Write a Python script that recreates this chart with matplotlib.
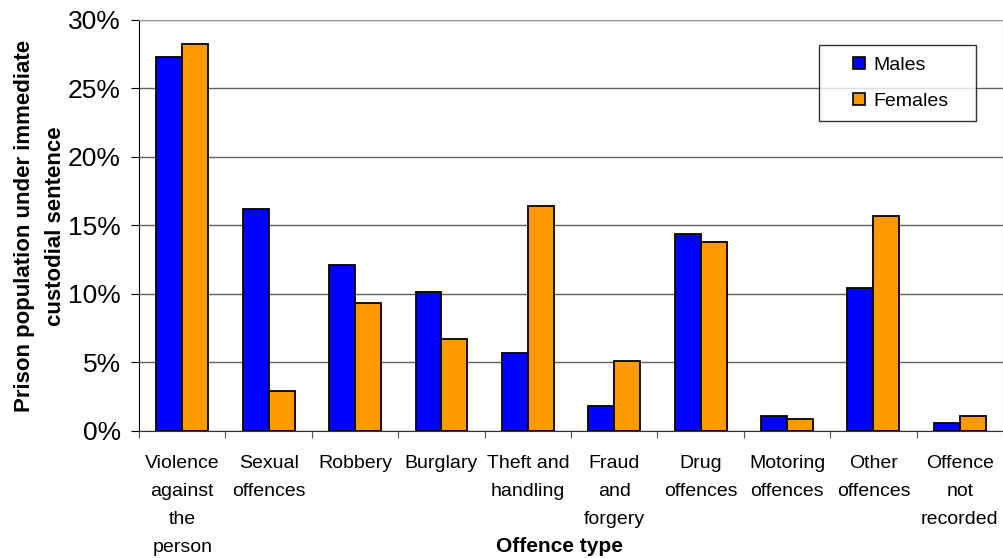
import numpy as np
import matplotlib
matplotlib.use("Agg")
import matplotlib.pyplot as plt
from matplotlib.lines import Line2D

categories = ["Violence\nagainst\nthe\nperson", "Sexual\noffences", "Robbery", "Burglary",
              "Theft and\nhandling", "Fraud\nand\nforgery", "Drug\noffences",
              "Motoring\noffences", "Other\noffences", "Offence\nnot\nrecorded"]
males = [27.3, 16.2, 12.1, 10.1, 5.7, 1.8, 14.4, 1.1, 10.4, 0.55]
females = [28.2, 2.9, 9.3, 6.7, 16.4, 5.1, 13.75, 0.85, 15.7, 1.1]
yticks = [0, 5, 10, 15, 20, 25, 30]
male_col, female_col = "#0000ff", "#ff9900"

plt.rcParams["font.family"] = ["Liberation Sans", "DejaVu Sans"]

fig = plt.figure(figsize=(10.04, 5.58), dpi=100)
ax = fig.add_axes([0.1385, 0.228, 0.8605, 0.7365])

x = np.arange(len(categories))
w = 0.30
ax.bar(x - w / 2, males, w, color=male_col, edgecolor="black", linewidth=1.3, zorder=3)
ax.bar(x + w / 2, females, w, color=female_col, edgecolor="black", linewidth=1.3, zorder=3)

ax.set_xlim(-0.5, len(categories) - 0.5)
ax.set_ylim(0, 30)
ax.set_yticks(yticks)
ax.set_yticklabels([f"{t}%" for t in yticks], fontsize=19)
ax.yaxis.grid(True, color="#606060", linewidth=1)
ax.set_axisbelow(True)

# ticks sit on the category boundaries, labels are written per category
ax.set_xticks(np.arange(len(categories) + 1) - 0.5)
ax.set_xticklabels([])
ax.tick_params(axis="x", length=5, direction="out", color="#555555")
ax.tick_params(axis="y", length=6, direction="out", pad=7)
for i, lab in enumerate(categories):
    ax.text(i, -1.75, lab, ha="center", va="top", fontsize=14, linespacing=1.85)

for s in ["top", "right"]:
    ax.spines[s].set_color("#999999")
ax.spines["left"].set_color("black")
ax.spines["bottom"].set_color("#333333")

fig.text(40 / 1004, 1 - 226 / 558, "Prison population under immediate\ncustodial sentence",
         rotation=90, ha="center", va="center", multialignment="center",
         fontsize=16, fontweight="bold", linespacing=1.6)
fig.text(0.5575, 6 / 558, "Offence type", ha="center", va="baseline", fontsize=15,
         fontweight="bold")

handles = [Line2D([], [], marker="s", markersize=8.6, markerfacecolor=c, markeredgecolor="black",
                  markeredgewidth=1.2, linestyle="none") for c in (male_col, female_col)]
leg = ax.legend(handles, ["Males", "Females"], loc="upper left",
                bbox_to_anchor=(819 / 1004, 1 - 119 / 558, 157 / 1004, 74 / 558),
                bbox_transform=fig.transFigure, mode="expand", fontsize=14,
                frameon=True, fancybox=False, edgecolor="black", borderpad=0.56,
                handlelength=3.0, handletextpad=-0.77, labelspacing=0.98,
                borderaxespad=0, numpoints=1)
leg.get_frame().set_linewidth(1)

fig.savefig("out.png", dpi=100)
